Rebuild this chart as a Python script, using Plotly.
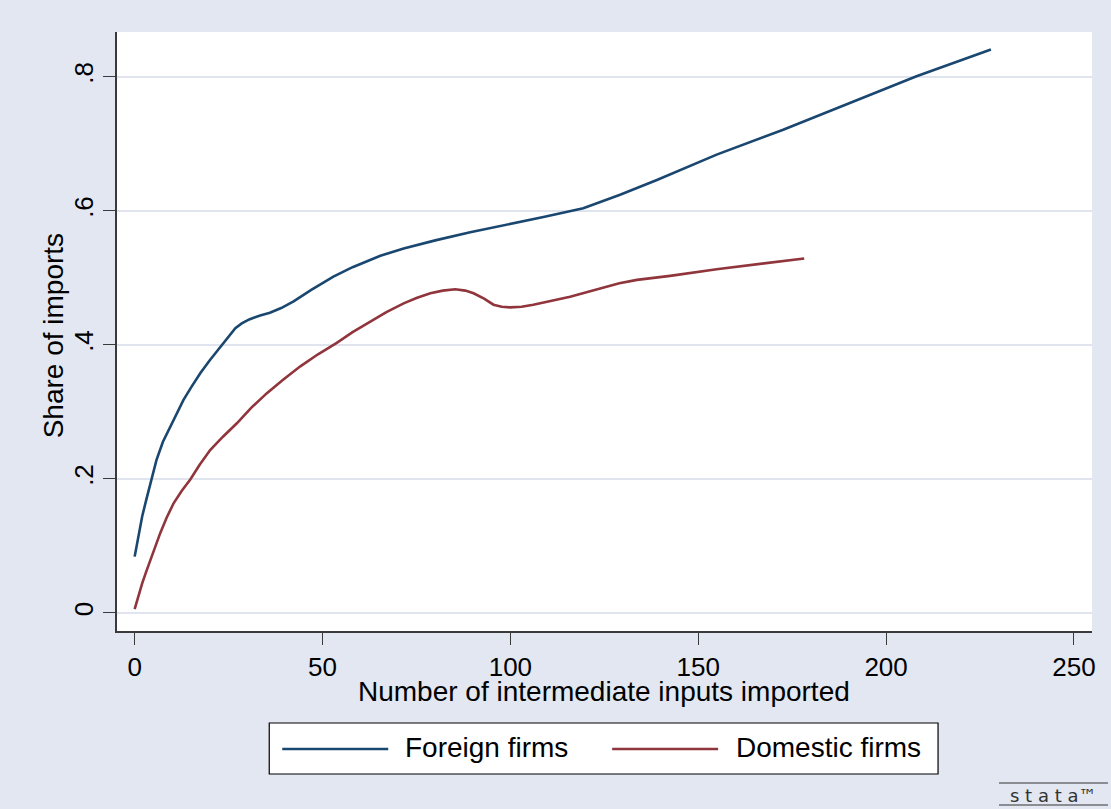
import plotly.graph_objects as go

# ---- data ----
foreign_x = [0, 1.0, 2.0, 3.1, 4.5, 5.8, 7.5, 9.5, 11.2, 13.0, 15.2, 17.5, 20.0, 22.8, 24.8,
             26.8, 28.5, 30.5, 33.4, 36.0, 39.0, 42.3, 47.0, 52.9, 58.0, 65.4, 71.6, 80.0,
             89.3, 98.2, 108.8, 119.4, 129.2, 139.0, 154.9, 172.6, 190.4, 208.1, 227.9]
foreign_y = [0.084, 0.115, 0.144, 0.169, 0.200, 0.228, 0.255, 0.278, 0.299, 0.318, 0.338,
             0.358, 0.377, 0.397, 0.412, 0.425, 0.432, 0.438, 0.444, 0.448, 0.455, 0.465,
             0.482, 0.502, 0.516, 0.533, 0.544, 0.556, 0.568, 0.578, 0.591, 0.604, 0.624,
             0.646, 0.684, 0.721, 0.761, 0.801, 0.841]

domestic_x = [0, 1.0, 2.0, 3.1, 4.2, 5.5, 6.8, 8.5, 10.4, 12.5, 14.8, 17.3, 20.1, 23.5, 27.2,
              31.0, 35.2, 39.5, 44.1, 48.8, 53.8, 58.0, 62.7, 67.0, 71.6, 75.0, 78.7, 82.0,
              85.3, 88.0, 90.2, 93.0, 95.5, 97.7, 99.9, 103.0, 106.1, 111.0, 115.9, 120.5,
              124.8, 129.0, 133.7, 142.5, 154.9, 166.0, 178.2]
domestic_y = [0.0055, 0.026, 0.044, 0.062, 0.079, 0.099, 0.119, 0.142, 0.164, 0.182, 0.199,
              0.221, 0.243, 0.263, 0.283, 0.306, 0.328, 0.348, 0.368, 0.386, 0.403, 0.419,
              0.435, 0.449, 0.462, 0.470, 0.477, 0.481, 0.483, 0.481, 0.477, 0.469, 0.460,
              0.457, 0.456, 0.457, 0.460, 0.466, 0.472, 0.479, 0.486, 0.492, 0.497, 0.503,
              0.513, 0.521, 0.529]

series_names = ["Foreign firms", "Domestic firms"]
x_ticks = [0, 50, 100, 150, 200, 250]
y_ticks = [0, 0.2, 0.4, 0.6, 0.8]
y_tick_labels = ["0", ".2", ".4", ".6", ".8"]

NAVY = "#1a476f"
MAROON = "#90353b"
BG = "#e2e7f1"
GRID = "#dfe4ee"
AX = "#3a3a3a"
FONT = "Liberation Sans, Arial, sans-serif"

W, H = 1111, 809
L, R, T, B = 116.7, 1092.0, 32.0, 631.0


def px2paper(px, py):
    return (px - L) / (R - L), (B - py) / (B - T)


fig = go.Figure()
fig.add_trace(go.Scatter(x=foreign_x, y=foreign_y, mode="lines", name=series_names[0],
                         line=dict(color=NAVY, width=2.6)))
fig.add_trace(go.Scatter(x=domestic_x, y=domestic_y, mode="lines", name=series_names[1],
                         line=dict(color=MAROON, width=2.6)))

shapes = []
annotations = []

# custom legend box
x0, y0 = px2paper(269, 723)
x1, y1 = px2paper(938, 774)
shapes.append(dict(type="rect", xref="paper", yref="paper", x0=x0, x1=x1, y0=y1, y1=y0,
                   fillcolor="white", line=dict(color="black", width=1.2), layer="above"))
legend_items = [(282, 388, 403, NAVY, series_names[0]), (612, 718, 734, MAROON, series_names[1])]
for lx0, lx1, tx, col, name in legend_items:
    a, yy = px2paper(lx0, 749)
    b, _ = px2paper(lx1, 749)
    shapes.append(dict(type="line", xref="paper", yref="paper", x0=a, x1=b, y0=yy, y1=yy,
                       line=dict(color=col, width=2.6), layer="above"))
    t, ty = px2paper(tx, 747)
    annotations.append(dict(xref="paper", yref="paper", x=t, y=ty, text=name, showarrow=False,
                            xanchor="left", yanchor="middle",
                            font=dict(family=FONT, size=28, color="black")))

# stata logo
sa, sy1 = px2paper(999, 783)
sb, sy2 = px2paper(1108, 805)
shapes.append(dict(type="line", xref="paper", yref="paper", x0=sa, x1=sb, y0=sy1, y1=sy1,
                   line=dict(color="#333333", width=1)))
shapes.append(dict(type="line", xref="paper", yref="paper", x0=sa, x1=sb, y0=sy2, y1=sy2,
                   line=dict(color="#333333", width=1)))
sc, sm = px2paper(1053, 795)
annotations.append(dict(xref="paper", yref="paper", x=sc, y=sm, text="s t a t a™",
                        showarrow=False, xanchor="center", yanchor="middle",
                        font=dict(family="DejaVu Sans, sans-serif", size=18, color="#333333")))

# x axis title
xt, yt = px2paper(604, 691)
annotations.append(dict(xref="paper", yref="paper", x=xt, y=yt, text="Number of intermediate inputs imported",
                        showarrow=False, xanchor="center", yanchor="middle",
                        font=dict(family=FONT, size=28, color="black")))
# y axis title
xt, yt = px2paper(53, 336)
annotations.append(dict(xref="paper", yref="paper", x=xt, y=yt, text="Share of imports",
                        showarrow=False, xanchor="center", yanchor="middle", textangle=-90,
                        font=dict(family=FONT, size=28, color="black")))

fig.update_layout(
    width=W, height=H,
    margin=dict(l=L, r=W - R, t=T, b=H - B, pad=0),
    paper_bgcolor=BG, plot_bgcolor="white",
    showlegend=False,
    shapes=shapes, annotations=annotations,
    font=dict(family=FONT, size=26, color="black"),
)
fig.update_xaxes(range=[-4.7, 254.8], tickvals=x_ticks, ticks="outside", ticklen=12,
                 tickwidth=1.3, tickcolor=AX, showline=True, linecolor=AX, linewidth=1.5,
                 showgrid=False, zeroline=False, tickfont=dict(family=FONT, size=26, color="black"))
fig.update_yaxes(range=[-0.027, 0.867], tickvals=y_ticks, ticktext=y_tick_labels,
                 ticks="outside", ticklen=12, tickwidth=1.3, tickcolor=AX, tickangle=-90,
                 showline=True, linecolor=AX, linewidth=1.5, showgrid=True, gridcolor=GRID,
                 gridwidth=2, zeroline=False, tickfont=dict(family=FONT, size=26, color="black"))

fig.write_html("out.html", config={"displayModeBar": False},
               post_script="document.body.style.margin='0px';document.body.style.overflow='hidden';")
